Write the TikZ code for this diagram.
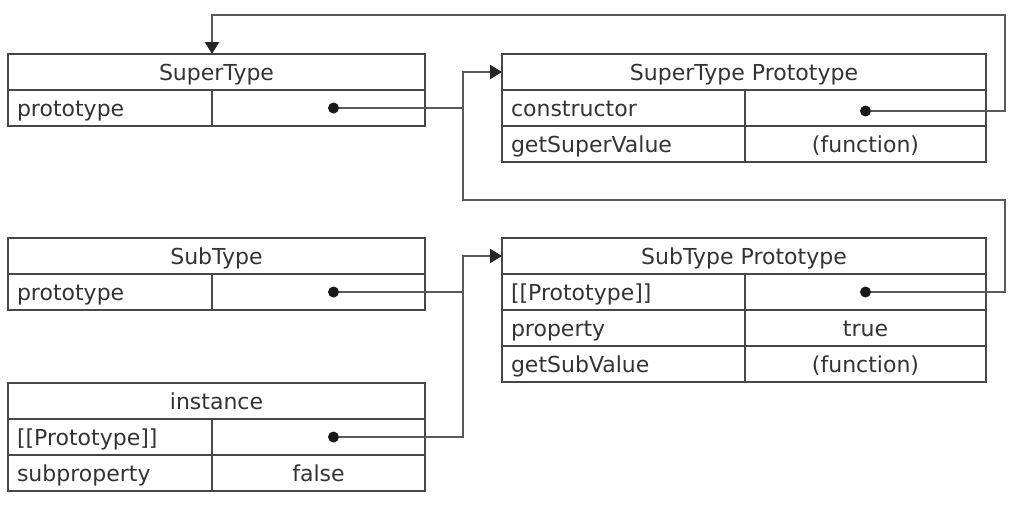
\documentclass[tikz,border=0pt]{standalone}
\usepackage{fontspec}
\setmainfont{DejaVu Sans}
\usetikzlibrary{positioning,arrows.meta}

\tikzset{
  cell/.style={draw=black!72, line width=2pt, outer sep=0pt, inner xsep=9pt, inner ysep=0pt,
    minimum height=36pt, text height=20pt, text depth=3pt, font=\fontsize{22}{26}\selectfont, text=black!80},
  head/.style={cell, minimum width=#1},
  key/.style={cell, text width=#1, align=left},
  val/.style={cell, minimum width=#1},
  dot/.style={circle, fill=black!90, inner sep=0pt, minimum size=11pt},
  link/.style={draw=black!65, line width=2.2pt},
  tip/.style={-{Triangle[length=12pt,width=14pt,color=black!85]}}
}

\begin{document}
\begin{tikzpicture}[x=1pt, y=-1pt]
    \useasboundingbox (0,0) rectangle (1024,504);

    % SuperType
    \node[head=417pt, anchor=north west] (st) at (8,54) {SuperType};
    \node[key=186pt, below right=0pt and 0pt of st.south west] (stk) {prototype};
    \node[val=213pt, right=0pt of stk] (stv) {};

    % SuperType Prototype
    \node[head=484pt, anchor=north west] (sp) at (502,54) {SuperType Prototype};
    \node[key=225pt, below right=0pt and 0pt of sp.south west] (spk1) {constructor};
    \node[val=241pt, right=0pt of spk1] (spv1) {};
    \node[key=225pt, below=0pt of spk1] (spk2) {getSuperValue};
    \node[val=241pt, right=0pt of spk2] (spv2) {(function)};

    % SubType
    \node[head=417pt, anchor=north west] (sb) at (8,238) {SubType};
    \node[key=186pt, below right=0pt and 0pt of sb.south west] (sbk) {prototype};
    \node[val=213pt, right=0pt of sbk] (sbv) {};

    % SubType Prototype
    \node[head=484pt, anchor=north west] (bp) at (502,238) {SubType Prototype};
    \node[key=225pt, below right=0pt and 0pt of bp.south west] (bpk1) {[[Prototype]]};
    \node[val=241pt, right=0pt of bpk1] (bpv1) {};
    \node[key=225pt, below=0pt of bpk1] (bpk2) {property};
    \node[val=241pt, right=0pt of bpk2] (bpv2) {true};
    \node[key=225pt, below=0pt of bpk2] (bpk3) {getSubValue};
    \node[val=241pt, right=0pt of bpk3] (bpv3) {(function)};

    % instance
    \node[head=417pt, anchor=north west] (in) at (8,383) {instance};
    \node[key=186pt, below right=0pt and 0pt of in.south west] (ink1) {[[Prototype]]};
    \node[val=213pt, right=0pt of ink1] (inv1) {};
    \node[key=186pt, below=0pt of ink1] (ink2) {subproperty};
    \node[val=213pt, right=0pt of ink2] (inv2) {false};

    % pointers
    \node[dot] (d1) at ([xshift=15pt]stv.center) {};
    \node[dot] (d2) at ([yshift=-3pt]spv1.center) {};
    \node[dot] (d3) at ([xshift=15pt]sbv.center) {};
    \node[dot] (d4) at (bpv1.center) {};
    \node[dot] (d5) at ([xshift=15pt]inv1.center) {};

    \draw[link, tip] (d2) -| ([xshift=19pt, yshift=39pt]sp.north east) -| (stk.east |- st.north);
    \draw[link, tip] (d4) -| ([xshift=19pt, yshift=-38pt]spv2.south east) -| ([xshift=-39pt]sp.west) -- (sp.west);
    \draw[link] (d1) -- ([xshift=-39pt]sp.west |- d1);
    \draw[link, tip] (d3) -| ([xshift=-39pt]bp.west) -- (bp.west);
    \draw[link] (d5) -| ([xshift=-39pt]bp.west);
\end{tikzpicture}
\end{document}
